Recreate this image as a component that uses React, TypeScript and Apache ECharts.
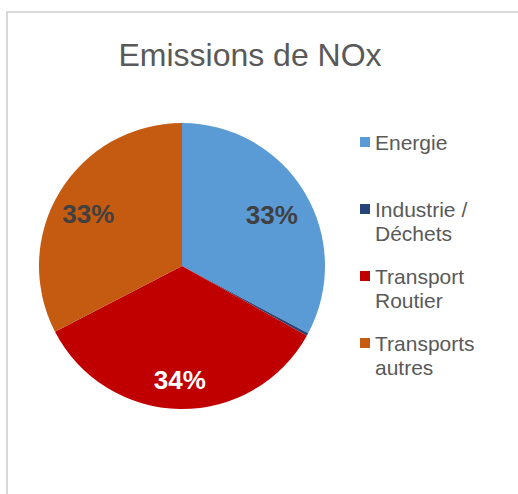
import React, { useEffect, useRef } from "react";
import * as echarts from "echarts";

const categories = ["Energie", "Industrie / Déchets", "Transport Routier", "Transports autres"];
const legendLines = [["Energie"], ["Industrie /", "Déchets"], ["Transport", "Routier"], ["Transports", "autres"]];
const values = [32.8, 0.3, 34.3, 32.6];
const titleText = "Emissions de NOx";

const colors = ["#5B9BD5", "#264478", "#C00000", "#C55A11"];
const labelColors = ["#404040", "#404040", "#ffffff", "#404040"];
const labelOffsets = [[26, -13], [0, 0], [-1, 40], [-30, -13]];
const FONT = "'Liberation Sans', Arial, sans-serif";

export default function App() {
  const ref = useRef<HTMLDivElement>(null);
  useEffect(() => {
    document.body.style.margin = "0";
    const chart = echarts.init(ref.current!, null, { renderer: "svg" });
    const legendMap: Record<string, string> = {};
    categories.forEach((c, i) => {
      const lines = legendLines[i];
      legendMap[c] = "\n" + lines.join("\n") + (lines.length === 1 ? "\n" : "");
    });
    chart.setOption({
      animation: false,
      backgroundColor: "#ffffff",
      title: {
        text: titleText,
        left: 245,
        top: 34,
        textAlign: "center",
        textStyle: { fontFamily: FONT, fontSize: 32, fontWeight: "normal", color: "#595959" },
      },
      graphic: [
        {
          type: "rect",
          silent: true,
          z: -1,
          shape: { x: 7, y: 12, width: 700, height: 700 },
          style: { fill: "none", stroke: "#d9d9d9", lineWidth: 2 },
        },
      ],
      legend: {
        orient: "vertical",
        left: 360,
        top: 106,
        padding: 0,
        itemGap: -5,
        itemWidth: 10,
        itemHeight: 10,
        icon: "rect",
        data: categories,
        formatter: (name: string) => legendMap[name],
        textStyle: { fontFamily: FONT, fontSize: 21, color: "#595959", lineHeight: 24 },
      },
      series: [
        {
          type: "pie",
          center: [182, 266],
          radius: 143,
          startAngle: 90,
          clockwise: true,
          avoidLabelOverlap: false,
          labelLine: { show: false },
          itemStyle: { borderWidth: 0 },
          data: categories.map((c, i) => ({
            name: c,
            value: values[i],
            itemStyle: { color: colors[i] },
            label: {
              show: i !== 1,
              position: "inside",
              offset: labelOffsets[i],
              color: labelColors[i],
              fontFamily: FONT,
              fontSize: 26,
              fontWeight: "bold",
              formatter: (p: any) => Math.round(p.percent) + "%",
            },
          })),
        },
      ],
    });
    return () => chart.dispose();
  }, []);
  return <div ref={ref} style={{ position: "absolute", left: 0, top: 0, width: 518, height: 494 }} />;
}
